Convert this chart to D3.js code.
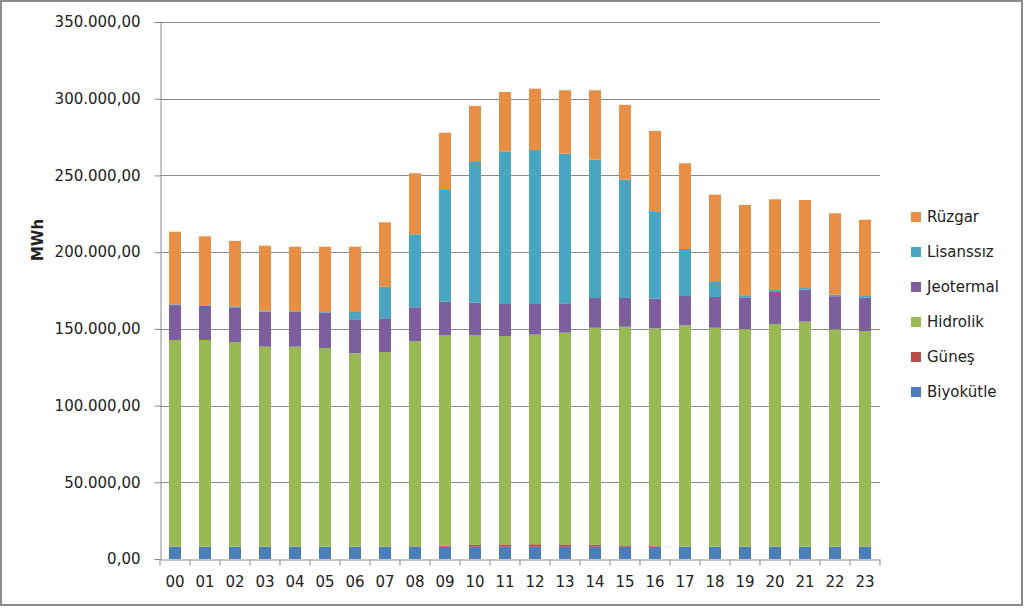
<!DOCTYPE html>
<html>
<head>
<meta charset="utf-8">
<script src="https://cdn.jsdelivr.net/npm/d3@7"></script>
<style>
	body { margin: 0; background: #fff; }
	svg { display: block; }
</style>
</head>
<body>
<svg id="chart" width="1024" height="608"></svg>
<script>
// Saatler
const hours = ['00', '01', '02', '03', '04', '05', '06', '07', '08', '09', '10', '11',
	'12', '13', '14', '15', '16', '17', '18', '19', '20', '21', '22', '23'];

// Kaynaklara göre üretim (MWh)
const biyokutle = [8000, 8000, 8000, 8000, 8000, 8000, 8000, 8000, 8000, 8000, 8000, 8000,
	8000, 8000, 8000, 8000, 8000, 8000, 8000, 8000, 8000, 8000, 8000, 8000];
const gunes = [0, 0, 0, 0, 0, 0, 0, 50, 300, 700, 1200, 1500,
	1600, 1500, 1300, 900, 400, 100, 0, 0, 0, 0, 0, 0];
const hidrolik = [134750, 134750, 133400, 130400, 130400, 129500, 126100, 126850, 133600, 137300, 136800, 135850,
	136600, 138000, 141450, 142500, 141950, 144200, 142750, 141900, 145200, 146700, 141700, 140600];
const jeotermal = [22750, 22350, 22650, 22800, 22600, 23050, 22150, 22000, 22150, 21700, 21050, 20850,
	20000, 19150, 19350, 18700, 19300, 19100, 20000, 20650, 21300, 20850, 21550, 21700];
const lisanssiz = [500, 500, 650, 500, 500, 450, 4750, 20600, 47550, 72800, 91700, 99500,
	100400, 97550, 90150, 77150, 56550, 30650, 9800, 1350, 800, 1050, 1050, 1100];
const ruzgar = [47300, 44700, 42600, 42500, 42050, 42550, 42550, 41950, 39800, 37350, 36550, 38700,
	39950, 41300, 45250, 48750, 52750, 55850, 56900, 58850, 59150, 57400, 53000, 49750];

const seriesNames = ['Biyokütle', 'Güneş', 'Hidrolik', 'Jeotermal', 'Lisanssız', 'Rüzgar'];
const seriesValues = [biyokutle, gunes, hidrolik, jeotermal, lisanssiz, ruzgar];
const colors = ['#4a7ebb', '#be4b48', '#98b954', '#7d5fa0', '#48a6c2', '#e98f45'];

const yTicks = [0, 50000, 100000, 150000, 200000, 250000, 300000, 350000];

const svg = d3.select('#chart');
const font = 'DejaVu Sans, sans-serif';

// Tablo: her saat için bir satır
const table = hours.map((h, i) => {
	const row = { hour: h };
	seriesNames.forEach((name, k) => { row[name] = seriesValues[k][i]; });
	return row;
});

const stacked = d3.stack().keys(seriesNames)(table);

const plotLeft = 160, plotRight = 880, plotTop = 22, plotBottom = 559;

const xScale = d3.scaleBand().domain(hours).range([plotLeft, plotRight]).paddingInner(0.6).paddingOuter(0.3);
const xBand = d3.scaleBand().domain(hours).range([plotLeft, plotRight]);
const yScale = d3.scaleLinear().domain([0, 350000]).range([plotBottom, plotTop]);

const fmt = (v) => d3.format(',.2f')(v).replace(/,/g, '#').replace('.', ',').replace(/#/g, '.');

// Çerçeve
svg.append('rect')
	.attr('x', 1).attr('y', 1).attr('width', 1021).attr('height', 604)
	.attr('fill', '#fff').attr('stroke', '#8c8c8c').attr('stroke-width', 2);

// Yatay kılavuz çizgileri
svg.append('g')
	.selectAll('line')
	.data(yTicks.slice(1))
	.enter()
	.append('line')
	.attr('x1', plotLeft).attr('x2', plotRight)
	.attr('y1', (d) => Math.round(yScale(d)) + 0.5)
	.attr('y2', (d) => Math.round(yScale(d)) + 0.5)
	.attr('stroke', '#8a8a8a');

// Barlar
svg.append('g')
	.selectAll('g')
	.data(stacked)
	.enter()
	.append('g')
	.attr('fill', (d, i) => colors[i])
	.selectAll('rect')
	.data((d) => d)
	.enter()
	.append('rect')
	.attr('x', (d) => xScale(d.data.hour))
	.attr('y', (d) => yScale(d[1]))
	.attr('width', xScale.bandwidth())
	.attr('height', (d) => yScale(d[0]) - yScale(d[1]));

// Y ekseni
const yAxis = svg.append('g')
	.attr('transform', `translate(${plotLeft + 0.5},0)`)
	.call(d3.axisLeft(yScale).tickValues(yTicks).tickSize(6).tickPadding(14).tickFormat(fmt));

// X ekseni
const xAxis = svg.append('g')
	.attr('transform', `translate(0,${plotBottom + 0.5})`)
	.call(d3.axisBottom(xBand).tickSize(0).tickPadding(17));

xAxis.selectAll('.tick').append('line')
	.attr('x1', -xBand.bandwidth() / 2).attr('x2', -xBand.bandwidth() / 2)
	.attr('y1', 0).attr('y2', 6)
	.attr('stroke', '#8a8a8a');
xAxis.append('line')
	.attr('x1', plotRight).attr('x2', plotRight).attr('y1', 0).attr('y2', 6)
	.attr('stroke', '#8a8a8a');

[yAxis, xAxis].forEach((ax) => {
	ax.select('.domain').attr('stroke', '#8a8a8a');
	ax.selectAll('.tick line').attr('stroke', '#8a8a8a');
	ax.selectAll('.tick text').attr('font-family', font).attr('font-size', '15px').attr('fill', '#222');
});

// Eksen başlığı
svg.append('text')
	.attr('transform', 'translate(43,240) rotate(-90)')
	.attr('text-anchor', 'middle')
	.attr('font-family', font)
	.attr('font-size', '15px')
	.attr('font-weight', 'bold')
	.attr('fill', '#222')
	.text('MWh');

// Lejant
const legend = svg.append('g')
	.selectAll('g')
	.data(seriesNames.slice().reverse())
	.enter()
	.append('g')
	.attr('transform', (d, i) => `translate(911,${217 + i * 35})`);

legend.append('rect')
	.attr('x', 0).attr('y', -5).attr('width', 10).attr('height', 10)
	.attr('fill', (d) => colors[seriesNames.indexOf(d)]);

legend.append('text')
	.attr('x', 16).attr('y', 0).attr('dy', '0.36em')
	.attr('font-family', font)
	.attr('font-size', '15px')
	.attr('fill', '#222')
	.text((d) => d);
</script>
</body>
</html>
